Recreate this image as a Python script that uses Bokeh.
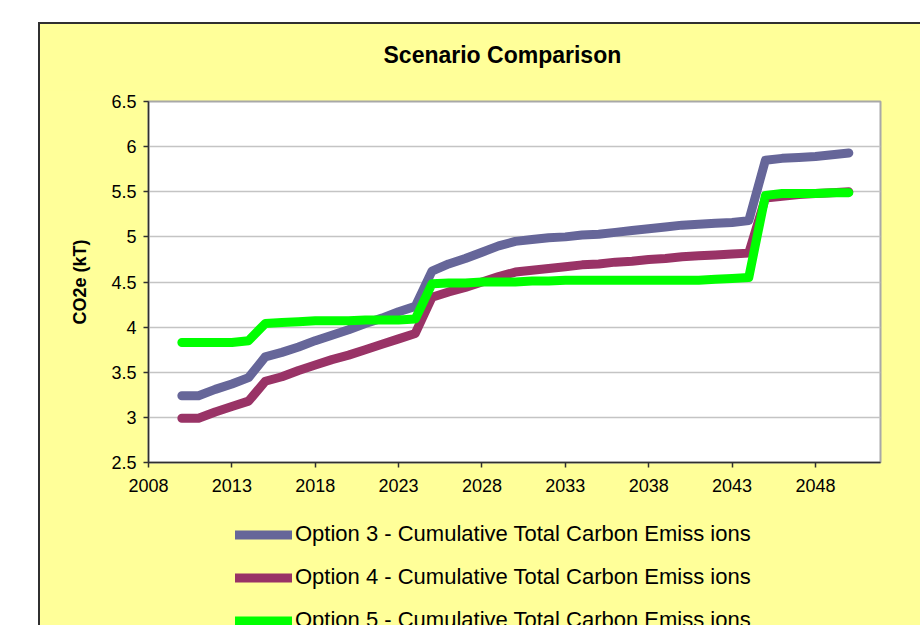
from bokeh.plotting import figure
from bokeh.layouts import column
from bokeh.models import Range1d, FixedTicker, NumeralTickFormatter, Legend, LegendItem, Title
from bokeh.embed import file_html
from bokeh.resources import INLINE

years = [2010, 2011, 2012, 2013, 2014, 2015, 2016, 2017, 2018, 2019,
         2020, 2021, 2022, 2023, 2024, 2025, 2026, 2027, 2028, 2029,
         2030, 2031, 2032, 2033, 2034, 2035, 2036, 2037, 2038, 2039,
         2040, 2041, 2042, 2043, 2044, 2045, 2046, 2047, 2048, 2049, 2050]
option3 = [3.24, 3.24, 3.31, 3.37, 3.44, 3.67, 3.72, 3.78, 3.85, 3.91,
           3.97, 4.04, 4.10, 4.17, 4.23, 4.62, 4.70, 4.76, 4.83, 4.90,
           4.95, 4.97, 4.99, 5.00, 5.02, 5.03, 5.05, 5.07, 5.09, 5.11,
           5.13, 5.14, 5.15, 5.16, 5.18, 5.85, 5.87, 5.88, 5.89, 5.91, 5.93]
option4 = [2.99, 2.99, 3.06, 3.12, 3.18, 3.40, 3.45, 3.52, 3.58, 3.64,
           3.69, 3.75, 3.81, 3.87, 3.93, 4.33, 4.39, 4.44, 4.50, 4.56,
           4.61, 4.63, 4.65, 4.67, 4.69, 4.70, 4.72, 4.73, 4.75, 4.76,
           4.78, 4.79, 4.80, 4.81, 4.82, 5.43, 5.45, 5.47, 5.48, 5.49, 5.50]
option5 = [3.83, 3.83, 3.83, 3.83, 3.85, 4.04, 4.05, 4.06, 4.07, 4.07,
           4.07, 4.08, 4.08, 4.08, 4.09, 4.48, 4.49, 4.49, 4.50, 4.50,
           4.50, 4.51, 4.51, 4.52, 4.52, 4.52, 4.52, 4.52, 4.52, 4.52,
           4.52, 4.52, 4.53, 4.54, 4.55, 5.46, 5.48, 5.48, 5.48, 5.49, 5.49]
x_ticks = [2008, 2013, 2018, 2023, 2028, 2033, 2038, 2043, 2048]
y_ticks = [2.5, 3, 3.5, 4, 4.5, 5, 5.5, 6, 6.5]
chart_title = "Scenario Comparison"
series_names = ["Option 3 - Cumulative Total Carbon Emiss ions",
                "Option 4 - Cumulative Total Carbon Emiss ions",
                "Option 5 - Cumulative Total Carbon Emiss ions"]
colors = ["#666699", "#993366", "#00FF00"]

FONT = "Liberation Sans"
YELLOW = "#FFFF99"
BORDER = "2px solid #303030"

# ---- title strip (top of the yellow box) ----
ts = figure(width=882, height=68, output_backend="svg", toolbar_location=None,
            x_range=Range1d(0, 1), y_range=Range1d(0, 1),
            x_axis_type=None, y_axis_type=None, min_border=0)
ts.styles = {"border-left": BORDER, "border-top": BORDER, "background-color": YELLOW}
ts.background_fill_color = None
ts.border_fill_color = None
ts.outline_line_color = None
ts.xgrid.visible = False
ts.ygrid.visible = False
ts.title = Title(text=chart_title, text_font=FONT, text_font_size="23px",
                 text_font_style="bold", text_color="black",
                 align="left", offset=235, standoff=33, vertical_align="middle")

# ---- main chart ----
p = figure(width=882, height=412, output_backend="svg", toolbar_location=None,
           x_range=Range1d(2008, 2051.9), y_range=Range1d(2.5, 6.5),
           min_border_left=108, min_border_right=42,
           min_border_top=11, min_border_bottom=40)
p.styles = {"border-left": BORDER}

p.background_fill_color = "white"
p.border_fill_color = YELLOW
p.outline_line_color = "#A8A8A8"
p.outline_line_width = 2

p.xgrid.visible = False
p.ygrid.grid_line_color = "#C4C4C4"
p.ygrid.grid_line_width = 1.5
p.ygrid.ticker = FixedTicker(ticks=y_ticks)

for ax in (p.xaxis[0], p.yaxis[0]):
    ax.axis_line_color = "#303030"
    ax.axis_line_width = 1.5
    ax.major_tick_line_color = "#303030"
    ax.major_tick_line_width = 1.5
    ax.major_tick_in = 0
    ax.major_tick_out = 5
    ax.minor_tick_line_color = None
    ax.major_label_text_font = FONT
    ax.major_label_text_font_size = "18px"
    ax.major_label_text_color = "black"

p.xaxis.ticker = FixedTicker(ticks=x_ticks)
p.xaxis.major_label_standoff = 11
p.yaxis.ticker = FixedTicker(ticks=y_ticks)
p.yaxis.formatter = NumeralTickFormatter(format="0.[0]")
p.yaxis.major_label_standoff = 7
p.yaxis.axis_label = "CO2e (kT)"
p.yaxis.axis_label_text_font = FONT
p.yaxis.axis_label_text_font_size = "18px"
p.yaxis.axis_label_text_font_style = "bold"
p.yaxis.axis_label_text_color = "black"
p.yaxis.axis_label_standoff = 18

for vals, c in zip([option3, option4, option5], colors):
    p.line(years, vals, line_color=c, line_width=9,
           line_cap="round", line_join="round")

# ---- legend strip (bottom of the yellow box) ----
lg = figure(width=882, height=123, output_backend="svg", toolbar_location=None,
            x_range=Range1d(0, 1), y_range=Range1d(0, 1),
            x_axis_type=None, y_axis_type=None, min_border=0)
lg.styles = {"border-left": BORDER, "background-color": YELLOW}
lg.background_fill_color = None
lg.border_fill_color = None
lg.outline_line_color = None
lg.xgrid.visible = False
lg.ygrid.visible = False

leg_renderers = []
for vals, c in zip([option3, option4, option5], colors):
    # same series, outside this strip's visible ranges: only the legend swatch shows
    r = lg.line(years, vals, line_color=c, line_width=9,
                line_cap="round", line_join="round")
    leg_renderers.append(r)

legend = Legend(items=[LegendItem(label=n, renderers=[r]) for n, r in zip(series_names, leg_renderers)],
                location=(87, -8), orientation="vertical",
                margin=0, padding=0, spacing=17,
                glyph_width=57, glyph_height=25, label_height=25,
                label_standoff=3,
                label_text_font=FONT, label_text_font_size="22px",
                label_text_color="black",
                border_line_color=None, background_fill_alpha=0)
lg.add_layout(legend, "center")

layout = column(ts, p, lg, spacing=0)
layout.margin = (22, 0, 0, 38)
layout.styles = {"background-color": YELLOW}

open("out.html", "w").write(file_html(layout, INLINE))
